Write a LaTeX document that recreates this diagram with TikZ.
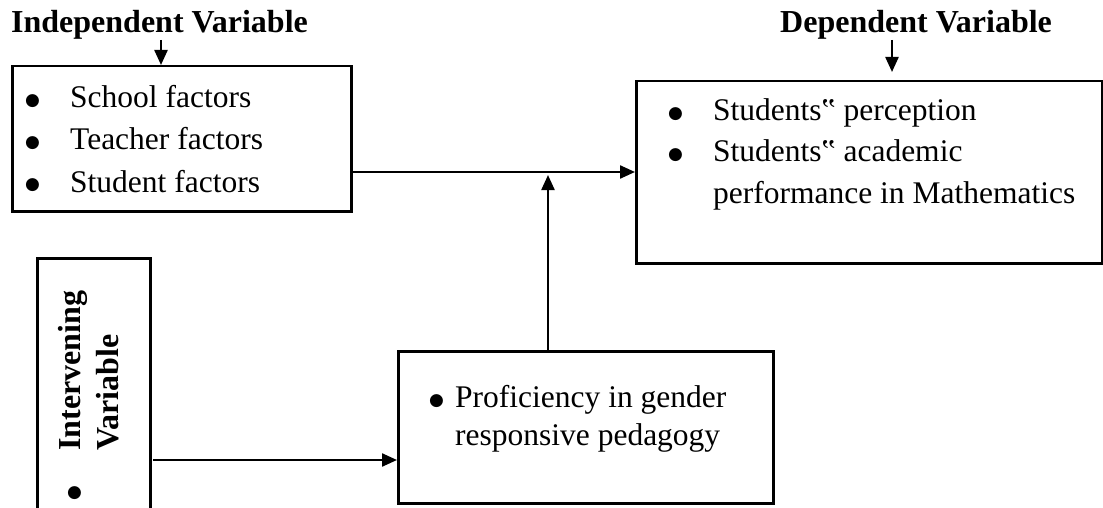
\documentclass[tikz,border=0pt]{standalone}
\usepackage{fontspec}
\setmainfont{Liberation Serif}
\newfontfamily\symfont{DejaVu Sans}
\usetikzlibrary{arrows.meta}

\newcommand\bul{\raisebox{2pt}{\symfont\fontsize{17}{17}\selectfont ●}}
\newcommand\itm[1][45pt]{\makebox[#1][l]{\bul}}

\begin{document}
\begin{tikzpicture}[x=1pt,y=-1pt,
  box/.style={draw, line width=2.5pt, anchor=north west, inner sep=0pt},
  arr/.style={-{Triangle[length=15pt,width=13pt]}, line width=2.3pt},
  txt/.style={anchor=base west, align=left, inner sep=0pt},
  ttl/.style={anchor=base west, inner sep=0pt, font=\fontsize{32}{38}\selectfont\bfseries}]
\useasboundingbox (0,0) rectangle (1103,508);
\clip (0,0) rectangle (1103,508);

% boxes
\node[box, minimum width=339pt, minimum height=145pt] (indep) at (11,65) {};
\node[box, minimum width=466pt, minimum height=182pt] (dep) at (635,80) {};
\node[box, minimum width=375pt, minimum height=152pt] (prof) at (397,350) {};
\node[box, minimum width=113pt, minimum height=290pt] (interv) at (36,257) {};

% titles
\node[ttl] (indtitle) at (11,33) {Independent Variable};
\node[ttl] (deptitle) at (780,33) {Dependent Variable};
\node[ttl, rotate=90, anchor=west, align=left] (intlabel) at (89,451) {Intervening\\Variable};

% lists (base = last line)
\node[txt, font=\fontsize{31.5}{42.5}\selectfont] (indlist) at (25,192)
  {\itm School factors\\ \itm Teacher factors\\ \itm Student factors};
\node[txt, font=\fontsize{31.5}{41.5}\selectfont] (deplist) at (668,203)
  {\itm[45pt]Students‟ perception\\ \itm[45pt]Students‟ academic\\ \hspace*{45pt}performance in Mathematics};
\node[txt, font=\fontsize{31.5}{38}\selectfont] (proflist) at (429,445)
  {\itm[26pt]Proficiency in gender\\ \hspace*{26pt}responsive pedagogy};
\node[txt, font=\fontsize{31.5}{38}\selectfont] (intbul) at (67,499) {\bul};

% arrows
\coordinate (ia) at (161,40);
\coordinate (da) at (892,40);
\coordinate (j) at (548,172);
\coordinate (k) at (153,460);
\draw[arr] (ia) -- (ia |- indep.north);
\draw[arr, shorten >=8pt] (da) -- (da |- dep.north);
\draw[arr] (indep.east |- j) -- (dep.west |- j);
\draw[arr, shorten >=3pt] (prof.north -| j) -- (j);
\draw[arr] (k) -- (prof.west |- k);
\end{tikzpicture}
\end{document}
